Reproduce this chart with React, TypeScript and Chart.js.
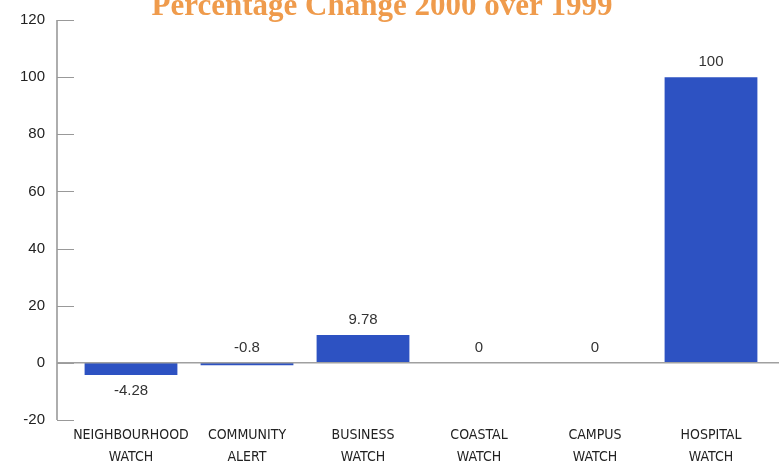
import React, { useEffect, useRef } from "react";
import { Chart, registerables } from "chart.js";

Chart.register(...registerables);

const categories: string[][] = [
  ["NEIGHBOURHOOD", "WATCH"],
  ["COMMUNITY", "ALERT"],
  ["BUSINESS", "WATCH"],
  ["COASTAL", "WATCH"],
  ["CAMPUS", "WATCH"],
  ["HOSPITAL", "WATCH"],
];
const changeValues: number[] = [-4.28, -0.8, 9.78, 0, 0, 100];
const valueLabels: string[] = ["-4.28", "-0.8", "9.78", "0", "0", "100"];
const titleText = "Percentage Change 2000 over 1999";

const overlayPlugin = {
  id: "overlay",
  afterDraw(chart: any) {
    const { ctx, chartArea, scales } = chart;
    const y = scales.y;
    const axisX = chartArea.left - 16;
    ctx.save();
    // title
    ctx.fillStyle = "#ef9b4c";
    ctx.font = "bold 31px 'Liberation Serif', 'DejaVu Serif', serif";
    ctx.textAlign = "center";
    ctx.textBaseline = "alphabetic";
    ctx.fillText(titleText, 382, 15);
    // axis line
    ctx.strokeStyle = "#777";
    ctx.lineWidth = 1.2;
    ctx.beginPath();
    ctx.moveTo(axisX, y.getPixelForValue(120));
    ctx.lineTo(axisX, y.getPixelForValue(-20));
    ctx.stroke();
    // tick marks
    ctx.strokeStyle = "#999";
    ctx.lineWidth = 1;
    y.ticks.forEach((t: any) => {
      const py = Math.round(y.getPixelForValue(t.value)) + 0.5;
      ctx.beginPath();
      ctx.moveTo(axisX, py);
      ctx.lineTo(axisX + 17, py);
      ctx.stroke();
    });
    // zero line
    const zy = y.getPixelForValue(0);
    ctx.strokeStyle = "#a0a0a0";
    ctx.lineWidth = 1.5;
    ctx.beginPath();
    ctx.moveTo(axisX, zy);
    ctx.lineTo(chart.width, zy);
    ctx.stroke();
    // value labels
    const meta = chart.getDatasetMeta(0);
    ctx.fillStyle = "#333";
    ctx.font = "15px 'Liberation Sans', Arial, sans-serif";
    ctx.textAlign = "center";
    ctx.textBaseline = "middle";
    meta.data.forEach((el: any, i: number) => {
      const v = changeValues[i];
      let py: number;
      if (v < -2) {
        py = y.getPixelForValue(v) + 16;
      } else {
        py = y.getPixelForValue(Math.max(v, 0)) - 15;
      }
      ctx.fillText(valueLabels[i], el.x, py);
    });
    ctx.restore();
  },
};

export default function App() {
  const ref = useRef<HTMLCanvasElement>(null);
  useEffect(() => {
    document.body.style.margin = "0";
    const chart = new Chart(ref.current!, {
      type: "bar",
      data: {
        labels: categories as any,
        datasets: [
          {
            data: changeValues,
            backgroundColor: "#2d52c2",
            borderWidth: 0,
            barPercentage: 0.8,
            categoryPercentage: 1,
          },
        ],
      },
      options: {
        animation: false,
        responsive: false,
        layout: { padding: { top: 20, right: 10, left: 0, bottom: 0 } },
        plugins: {
          legend: { display: false },
          tooltip: { enabled: false },
          title: { display: false },
        },
        scales: {
          x: {
            grid: { display: false, drawTicks: false },
            border: { display: false },
            ticks: {
              color: "#222",
              padding: 4,
              maxRotation: 0,
              autoSkip: false,
              font: { family: "'DejaVu Sans Condensed', 'Liberation Sans Narrow', sans-serif", size: 14, lineHeight: 1.57 },
            },
            afterFit(scale: any) {
              scale.height = 47;
            },
          },
          y: {
            min: -20,
            max: 120,
            grid: { display: false, drawTicks: false },
            border: { display: false },
            ticks: {
              stepSize: 20,
              color: "#222",
              padding: 28,
              font: { family: "'Liberation Sans', Arial, sans-serif", size: 15 },
            },
            afterFit(scale: any) {
              scale.width = 73;
              scale.paddingTop = 0;
              scale.paddingBottom = 0;
            },
          },
        },
      },
      plugins: [overlayPlugin],
    });
    return () => chart.destroy();
  }, []);
  return <canvas ref={ref} width={779} height={467} style={{ display: "block" }} />;
}
